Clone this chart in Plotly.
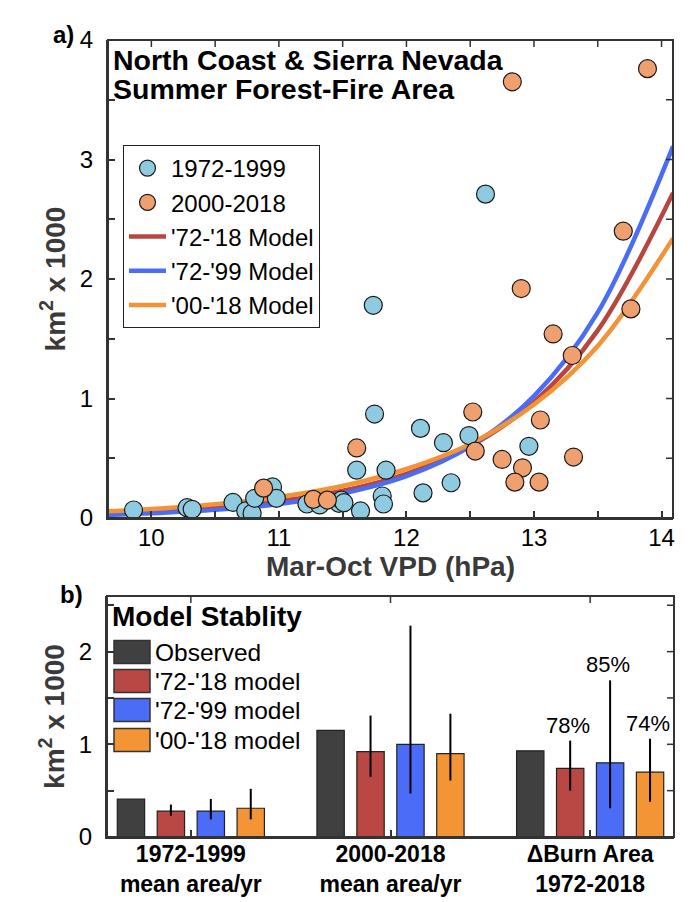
import plotly.graph_objects as go

W, H = 700, 902
FONT = "Liberation Sans, Arial, Helvetica, sans-serif"

# ---------------- Panel a data ----------------
vpd_7299 = [9.86, 10.28, 10.32, 10.64, 10.74, 10.79, 10.81, 10.95, 10.98, 11.22,
            11.32, 11.47, 11.49, 11.51, 11.64, 11.61, 11.75, 11.84, 11.81, 11.82,
            12.11, 12.13, 12.29, 12.35, 12.49, 12.96, 12.62, 11.74]
area_7299 = [0.067, 0.086, 0.073, 0.13, 0.059, 0.04, 0.165, 0.26, 0.165, 0.117,
             0.109, 0.123, 0.15, 0.128, 0.059, 0.40, 0.87, 0.40, 0.184, 0.117,
             0.75, 0.21, 0.63, 0.295, 0.69, 0.60, 2.71, 1.78]
vpd_0018 = [10.88, 11.27, 11.38, 11.61, 12.52, 12.54, 12.75, 12.91, 12.85, 13.04,
            13.05, 13.31, 13.15, 13.30, 13.76, 12.83, 13.89, 13.70, 12.90]
area_0018 = [0.25, 0.156, 0.15, 0.586, 0.887, 0.56, 0.49, 0.42, 0.30, 0.30,
             0.82, 0.51, 1.54, 1.36, 1.75, 3.65, 3.76, 2.40, 1.92]

model_vpd = [9.66, 10.0, 10.5, 11.0, 11.5, 12.0, 12.5, 13.0, 13.5, 14.09]
model_7218 = [0.039, 0.054, 0.088, 0.142, 0.228, 0.37, 0.60, 0.97, 1.57, 2.72]
model_7299 = [0.025, 0.040, 0.068, 0.118, 0.205, 0.35, 0.60, 1.02, 1.72, 3.11]
model_0018 = [0.056, 0.075, 0.115, 0.176, 0.268, 0.41, 0.62, 0.95, 1.44, 2.34]

a_xticks = [10, 11, 12, 13, 14]
a_xminor = [10.5, 11.5, 12.5, 13.5]
a_yticks = [0, 1, 2, 3, 4]
a_yminor = [0.5, 1.5, 2.5, 3.5]

# ---------------- Panel b data ----------------
cat_pos = [1, 2, 3]
cat_line1 = ["1972-1999", "2000-2018", "\u0394Burn Area"]
cat_line2 = ["mean area/yr", "mean area/yr", "1972-2018"]

bar_names = ["Observed", "'72-'18 model", "'72-'99 model", "'00-'18 model"]
bar_values = [
    [0.41, 1.15, 0.93],
    [0.28, 0.92, 0.74],
    [0.28, 1.00, 0.80],
    [0.31, 0.90, 0.70],
]
bar_hi = [
    None,
    [0.35, 1.31, 1.04],
    [0.41, 2.28, 1.69],
    [0.52, 1.33, 1.06],
]
bar_lo = [
    None,
    [0.23, 0.65, 0.50],
    [0.19, 0.47, 0.31],
    [0.19, 0.61, 0.38],
]
pct_labels = ["78%", "85%", "74%"]   # model bars of the 3rd group
b_yticks = [0, 1, 2]
b_yminor = [0.5, 1.5, 2.5]

# ---------------- styles ----------------
c_blue_pt = "#8FCBE0"
c_orange_pt = "#F0A06E"
c_red = "#B9453F"
c_blue = "#4A6CF7"
c_orange = "#F39237"
bar_colors = ["#404040", "#B94744", "#4A6CF7", "#F39535"]
axcol = "#333333"
TICKLEN = 7


def px(x):
    return x / W


def py(y):
    return 1 - y / H


fig = go.Figure()

# model curves
for name, vals, col, rank in [("'72-'18 Model", model_7218, c_red, 3),
                              ("'72-'99 Model", model_7299, c_blue, 4),
                              ("'00-'18 Model", model_0018, c_orange, 5)]:
    fig.add_trace(go.Scatter(x=model_vpd, y=vals, mode="lines", name=name,
                             line=dict(color=col, width=4.5, shape="spline"),
                             legendrank=rank, xaxis="x", yaxis="y"))

fig.add_trace(go.Scatter(x=vpd_7299, y=area_7299, mode="markers", name="1972-1999",
                         marker=dict(size=18, color=c_blue_pt,
                                     line=dict(color="#1a1a1a", width=1.2)),
                         legendrank=1, xaxis="x", yaxis="y"))
fig.add_trace(go.Scatter(x=vpd_0018, y=area_0018, mode="markers", name="2000-2018",
                         marker=dict(size=18, color=c_orange_pt,
                                     line=dict(color="#1a1a1a", width=1.2)),
                         legendrank=2, xaxis="x", yaxis="y"))

# bars
for i, name in enumerate(bar_names):
    err = None
    if bar_hi[i] is not None:
        err = dict(type="data", symmetric=False,
                   array=[h - v for h, v in zip(bar_hi[i], bar_values[i])],
                   arrayminus=[v - l for l, v in zip(bar_lo[i], bar_values[i])],
                   color="black", thickness=2, width=0)
    fig.add_trace(go.Bar(x=cat_pos, y=bar_values[i], name=name, showlegend=False,
                         marker=dict(color=bar_colors[i],
                                     line=dict(color="#222222", width=1.2)),
                         error_y=err, xaxis="x2", yaxis="y2"))

tickstyle = dict(ticks="inside", ticklen=TICKLEN, tickwidth=1.5, tickcolor=axcol)
axis_common = dict(showline=True, linecolor=axcol, linewidth=2,
                   showgrid=False, zeroline=False,
                   tickfont=dict(family=FONT, size=24, color="black"), **tickstyle)


def minor(vals):
    return dict(tickvals=vals, showgrid=False, **tickstyle)


dom_xa = [px(108), px(673)]
dom_ya = [py(518), py(40)]
dom_xb = [px(107), px(674)]
dom_yb = [py(837), py(596)]
rng_xa = [9.66, 14.09]
rng_ya = [0, 4]
rng_xb = [0.58, 3.42]
rng_yb = [0, 2.6]

title_font = dict(family=FONT, size=28, color="#3a3a3a")

fig.update_layout(
    width=W, height=H, autosize=False,
    margin=dict(l=0, r=0, t=0, b=0, autoexpand=False),
    paper_bgcolor="white", plot_bgcolor="white",
    font=dict(family=FONT, color="black"),
    barmode="group", bargap=0.2, bargroupgap=0.315,
    xaxis=dict(domain=dom_xa, anchor="y", range=rng_xa, tickvals=a_xticks,
               minor=minor(a_xminor), ticklabelstandoff=-3,
               title=dict(text="<b>Mar-Oct VPD (hPa)</b>", standoff=0, font=title_font),
               **axis_common),
    yaxis=dict(domain=dom_ya, anchor="x", range=rng_ya, tickvals=a_yticks,
               minor=minor(a_yminor), ticklabelstandoff=8,
               title=dict(text="<b>km<sup>2</sup> x 1000</b>", standoff=6, font=title_font),
               **axis_common),
    xaxis2=dict(domain=dom_xb, anchor="y2", range=rng_xb, tickvals=cat_pos,
                ticktext=["<b>%s</b><br><b>%s</b>" % (a, b)
                          for a, b in zip(cat_line1, cat_line2)],
                ticklabelstandoff=-5,
                **{**axis_common,
                   "tickfont": dict(family=FONT, size=23, color="black")}),
    yaxis2=dict(domain=dom_yb, anchor="x2", range=rng_yb, tickvals=b_yticks,
                minor=minor(b_yminor), ticklabelstandoff=8,
                title=dict(text="<b>km<sup>2</sup> x 1000</b>", standoff=6, font=title_font),
                **axis_common),
    legend=dict(x=px(123), y=py(145), xanchor="left", yanchor="top",
                bgcolor="white", bordercolor="#222222", borderwidth=1,
                font=dict(family=FONT, size=24, color="black"),
                tracegroupgap=0, itemwidth=37),
)

# ---- box frames with inward ticks on the top/right edges ----
shapes = []
frame_specs = [
    ("x", "y", a_xticks + a_xminor, a_yticks + a_yminor, dom_xa, dom_ya),
    ("x2", "y2", cat_pos, b_yticks + b_yminor, dom_xb, dom_yb),
]
for xr, yr, xt, yt, dx, dy in frame_specs:
    wpx = (dx[1] - dx[0]) * W
    hpx = (dy[1] - dy[0]) * H
    shapes.append(dict(type="rect", xref=xr + " domain", yref=yr + " domain",
                       x0=0, x1=1, y0=0, y1=1, layer="above",
                       line=dict(color=axcol, width=2), fillcolor="rgba(0,0,0,0)"))
    for v in xt:
        shapes.append(dict(type="line", xref=xr, yref=yr + " domain", x0=v, x1=v,
                           y0=1, y1=1 - TICKLEN / hpx, layer="above",
                           line=dict(color=axcol, width=1.5)))
    for v in yt:
        shapes.append(dict(type="line", xref=xr + " domain", yref=yr, y0=v, y1=v,
                           x0=1, x1=1 - TICKLEN / wpx, layer="above",
                           line=dict(color=axcol, width=1.5)))

ann = []
# panel labels
ann.append(dict(text="<b>a)</b>", x=px(63), y=py(34), xref="paper", yref="paper",
                xanchor="center", yanchor="middle", showarrow=False,
                font=dict(size=24, family=FONT, color="black")))
ann.append(dict(text="<b>b)</b>", x=px(71), y=py(594), xref="paper", yref="paper",
                xanchor="center", yanchor="middle", showarrow=False,
                font=dict(size=24, family=FONT, color="black")))
# panel a title (two lines)
for txt, yy in [("North Coast & Sierra Nevada", 60), ("Summer Forest-Fire Area", 89)]:
    ann.append(dict(text="<b>" + txt + "</b>", x=px(111), y=py(yy), xref="paper",
                    yref="paper", xanchor="left", yanchor="middle", showarrow=False,
                    font=dict(size=28.5, family=FONT, color="black")))
# panel b legend title
ann.append(dict(text="<b>Model Stablity</b>", x=px(110), y=py(616), xref="paper",
                yref="paper", xanchor="left", yanchor="middle", showarrow=False,
                font=dict(size=28, family=FONT, color="black")))
# panel b legend entries (patches + text)
row_y = [652, 681, 710, 740]
for i, name in enumerate(bar_names):
    yc = row_y[i]
    shapes.append(dict(type="rect", xref="paper", yref="paper",
                       x0=px(114), x1=px(150), y0=py(yc + 11.5), y1=py(yc - 11.5),
                       fillcolor=bar_colors[i], line=dict(color="#333333", width=1.5)))
    ann.append(dict(text=name, x=px(153), y=py(yc), xref="paper", yref="paper",
                    xanchor="left", yanchor="middle", showarrow=False,
                    font=dict(size=24.5, family=FONT, color="black")))
# percent labels above the model error bars of the last group
offsets = [-0.1, 0.1, 0.3]
for j, t in enumerate(pct_labels):
    ann.append(dict(text=t, x=cat_pos[2] + offsets[j] - 0.01, xref="x2",
                    y=bar_hi[j + 1][2], yref="y2", xanchor="center", yanchor="bottom",
                    yshift=1, showarrow=False,
                    font=dict(size=22, family=FONT, color="black")))

fig.update_layout(annotations=ann, shapes=shapes)
fig.write_html("out.html")
